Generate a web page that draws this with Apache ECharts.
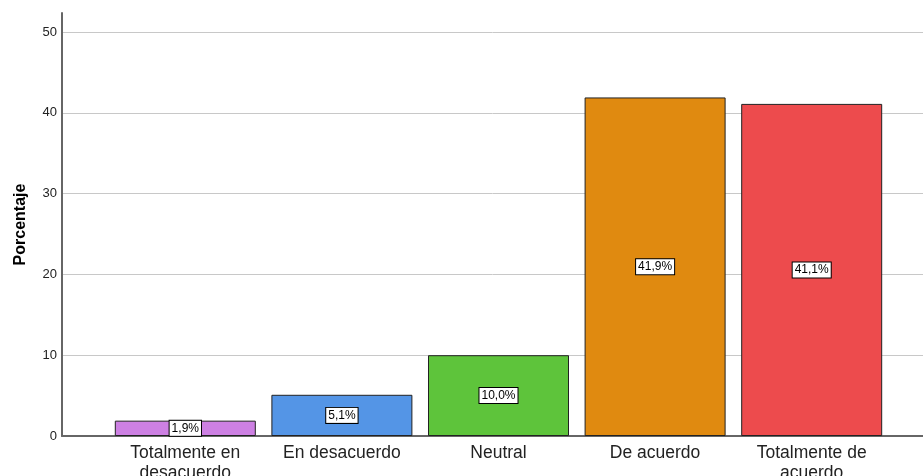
<!DOCTYPE html>
<html>
<head>
<meta charset="utf-8">
<script src="https://cdn.jsdelivr.net/npm/echarts@6/dist/echarts.min.js"></script>
<style>
  html, body { margin: 0; padding: 0; background: #fff; }
  #chart { width: 923px; height: 476px; }
</style>
</head>
<body>
<div id="chart"></div>
<script>
// datos
var categorias = ['Totalmente en\ndesacuerdo', 'En desacuerdo', 'Neutral', 'De acuerdo', 'Totalmente de\nacuerdo'];
var porcentajes = [1.9, 5.1, 10.0, 41.9, 41.1];
var colores = ['#cd80e3', '#5495e6', '#5ec43b', '#e08a10', '#ed4b4d'];
var yMax = 52.35;

var myChart = echarts.init(document.getElementById('chart'));
var fuente = 'Liberation Sans, Arial, sans-serif';

var options = {
    animation: false,
    textStyle: { fontFamily: fuente },
    grid: [
        { left: 62, right: 0, top: 13, bottom: 40, outerBoundsMode: 'none' },
        { left: 107, right: 33, top: 13, bottom: 40, outerBoundsMode: 'none' }
    ],
    xAxis: [
        {
            gridIndex: 0, type: 'value', min: 0, max: 1,
            axisLine: { show: true, onZero: false, lineStyle: { color: '#666', width: 2 } },
            axisTick: { show: false }, axisLabel: { show: false }, splitLine: { show: false }
        },
        {
            gridIndex: 1, type: 'category', data: categorias,
            axisLine: { show: false }, axisTick: { show: false },
            axisLabel: { color: '#222', fontSize: 17.5, lineHeight: 20, margin: 7, interval: 0 }
        }
    ],
    yAxis: [
        {
            gridIndex: 0, type: 'value', min: 0, max: yMax, interval: 10,
            name: 'Porcentaje', nameLocation: 'middle', nameGap: 33,
            nameTextStyle: { fontSize: 16, fontWeight: 'bold', color: '#000' },
            axisLine: { show: true, lineStyle: { color: '#666', width: 2 } },
            axisTick: { show: false },
            axisLabel: { color: '#222', fontSize: 13, margin: 5, showMaxLabel: false },
            splitLine: { show: true, showMaxLine: false, showMinLine: false, lineStyle: { color: '#c8c8c8' } }
        },
        {
            gridIndex: 1, type: 'value', min: 0, max: yMax, show: false,
            splitLine: { show: false }
        }
    ],
    series: [
        {
            type: 'bar',
            xAxisIndex: 1, yAxisIndex: 1,
            barWidth: 141,
            data: porcentajes.map(function (v, i) {
                return { value: v, itemStyle: { color: colores[i] } };
            }),
            itemStyle: { borderColor: '#222', borderWidth: 1 },
            label: {
                show: true,
                position: 'inside',
                color: '#000',
                fontSize: 12,
                backgroundColor: '#fff',
                borderColor: '#000',
                borderWidth: 1,
                padding: [2, 2, 1, 2],
                formatter: function (p) { return p.value.toFixed(1).replace('.', ',') + '%'; }
            }
        }
    ]
};

myChart.setOption(options);
window.addEventListener('resize', myChart.resize);
</script>
</body>
</html>
